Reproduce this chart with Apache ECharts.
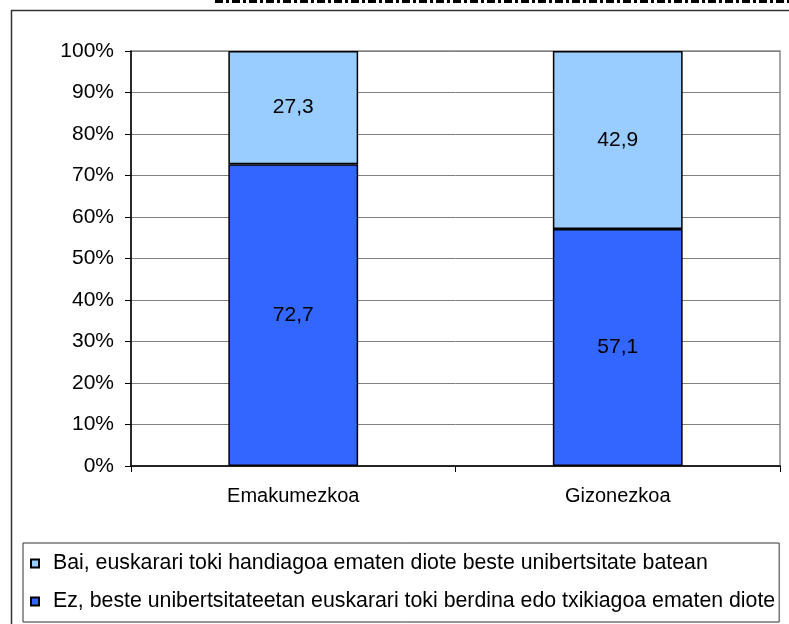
<!DOCTYPE html>
<html>
<head>
<meta charset="utf-8">
<script src="https://cdn.jsdelivr.net/npm/echarts@6/dist/echarts.min.js"></script>
<style>
  html, body { margin: 0; padding: 0; background: #fff; }
  #main { width: 789px; height: 624px; }
</style>
</head>
<body>
<div id="main"></div>
<script>
// categorias eta balioak (%)
var categories = ['Emakumezkoa', 'Gizonezkoa'];
var ezValues = [72.7, 57.1];
var baiValues = [27.3, 42.9];
var serieBai = 'Bai, euskarari toki handiagoa ematen diote beste unibertsitate batean';
var serieEz = 'Ez, beste unibertsitateetan euskarari toki berdina edo txikiagoa ematen diote';

var fontFam = '"Liberation Sans", Arial, sans-serif';

var chart = echarts.init(document.getElementById('main'));

function komaz(p) {
  return String(p.value).replace('.', ',');
}

var option = {
  animation: false,
  textStyle: { fontFamily: fontFam },
  grid: {
    left: 131,
    right: 9,
    top: 51,
    bottom: 158,
    show: true,
    borderColor: '#888',
    borderWidth: 1.5,
  },
  legend: {
    data: [serieBai, serieEz],
    orient: 'vertical',
    left: 23,
    top: 543,
    width: 780,
    height: 120,
    padding: [10, 4, 10, 7],
    itemGap: 17,
    itemWidth: 8,
    itemHeight: 8,
    icon: 'rect',
    borderColor: '#333',
    borderWidth: 1,
    selectedMode: false,
    textStyle: {
      fontSize: 21.3,
      lineHeight: 21,
      color: '#000',
      fontFamily: fontFam,
      padding: [0, 0, 0, 9],
    },
  },
  xAxis: {
    type: 'category',
    data: categories,
    axisLine: { lineStyle: { color: '#000', width: 1.5 } },
    axisTick: { show: true, length: 6, lineStyle: { color: '#000' } },
    axisLabel: { color: '#000', fontSize: 20, margin: 20, fontFamily: fontFam },
  },
  yAxis: {
    type: 'value',
    min: 0,
    max: 100,
    interval: 10,
    axisLine: { show: true, lineStyle: { color: '#000', width: 1.5 } },
    axisTick: { show: true, length: 6, lineStyle: { color: '#000' } },
    axisLabel: { color: '#000', fontSize: 21, margin: 17, formatter: '{value}%', fontFamily: fontFam },
    splitLine: { show: true, lineStyle: { color: '#808080', width: 1 } },
  },
  series: [
    {
      name: serieEz,
      type: 'bar',
      stack: 'guztira',
      barWidth: '40%',
      data: ezValues,
      itemStyle: { color: '#3366FF', borderColor: '#000', borderWidth: 1.5 },
      label: {
        show: true,
        position: 'inside',
        color: '#000',
        fontSize: 21,
        fontFamily: fontFam,
        formatter: komaz,
      },
    },
    {
      name: serieBai,
      type: 'bar',
      stack: 'guztira',
      barWidth: '40%',
      data: baiValues,
      itemStyle: { color: '#99CCFF', borderColor: '#000', borderWidth: 1.5 },
      label: {
        show: true,
        position: 'inside',
        color: '#000',
        fontSize: 21,
        fontFamily: fontFam,
        formatter: komaz,
      },
    },
  ],
  graphic: [
    // kanpoko markoa
    {
      type: 'polyline',
      shape: { points: [[800, 10.5], [11.5, 10.5], [11.5, 640]] },
      style: { stroke: '#333', lineWidth: 1.5, fill: null },
      silent: true,
    },
    // goiko marra etena
    {
      type: 'line',
      shape: { x1: 215, y1: 1.5, x2: 800, y2: 1.5 },
      style: { stroke: '#000', lineWidth: 3, lineDash: [8, 3, 3, 3] },
      silent: true,
    },
  ],
};

chart.setOption(option);
</script>
</body>
</html>
